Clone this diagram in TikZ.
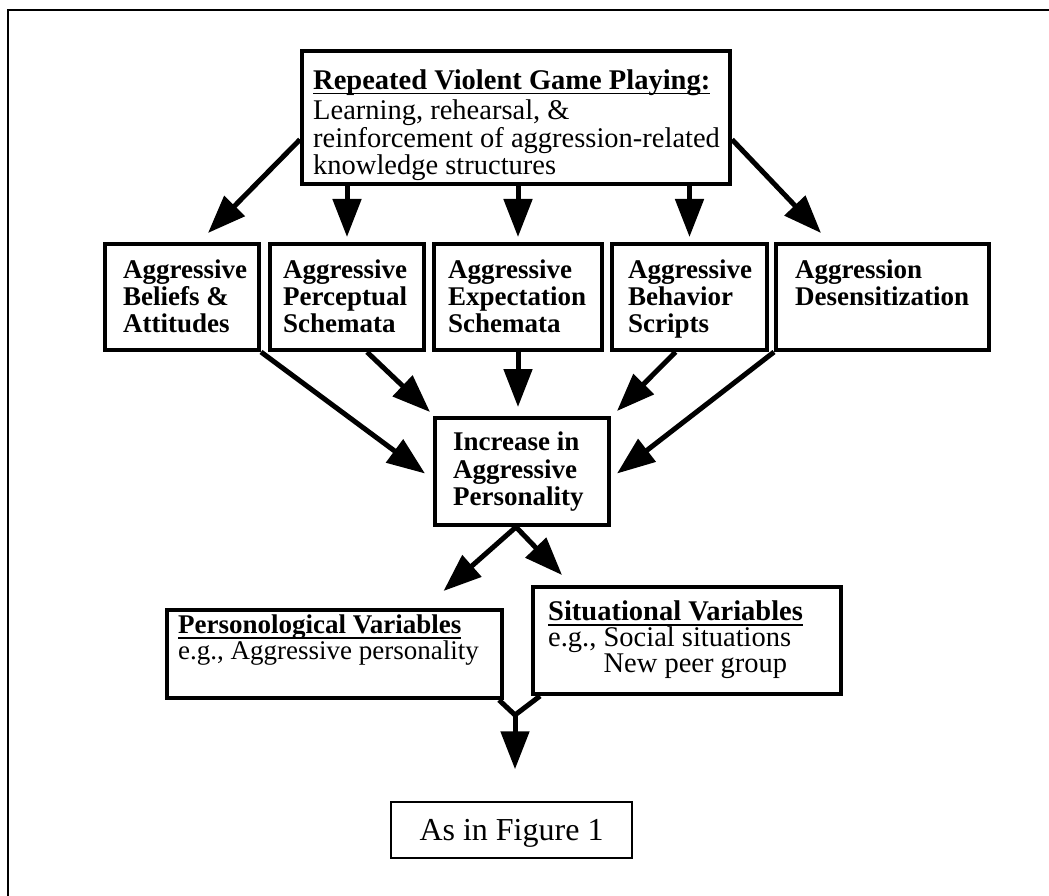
\documentclass[tikz,border=0pt]{standalone}
\usepackage{fontspec}
\setmainfont{Liberation Serif}
\usetikzlibrary{arrows.meta,calc}
\newcommand\ulbf[1]{\setbox0\hbox{\bfseries #1}\rlap{\rule[-5pt]{\wd0}{1.8pt}}\box0}
\begin{document}
\begin{tikzpicture}[x=1pt,y=-1pt,
  box/.style={draw, line width=4pt, inner sep=0pt, anchor=north west},
  lbl/.style={align=left, inner sep=0pt, anchor=north west, font=\fontsize{27}{26.5}\selectfont},
  blbl/.style={lbl, font=\fontsize{27}{26.8}\selectfont\bfseries},
  arr/.style={line width=5pt, -{Triangle[length=38pt,width=28pt]}},
  link/.style={line width=5pt, line join=miter},
  frame/.style={line width=2pt}
]
\useasboundingbox (0,0) rectangle (1049,896);
\draw[frame] (8,896) -- (8,10) -- (1049,10);

% boxes
\node[box, minimum width=428pt, minimum height=133pt] (top) at (300,49) {};
\node[box, minimum width=154pt, minimum height=106pt] (b1) at (103,242) {};
\node[box, minimum width=154pt, minimum height=106pt] (b2) at (268,242) {};
\node[box, minimum width=168pt, minimum height=106pt] (b3) at (432,242) {};
\node[box, minimum width=155pt, minimum height=106pt] (b4) at (610,242) {};
\node[box, minimum width=213pt, minimum height=106pt] (b5) at (774,242) {};
\node[box, minimum width=174pt, minimum height=107pt] (inc) at (433,416) {};
\node[box, minimum width=335pt, minimum height=88pt] (pers) at (165,608) {};
\node[box, minimum width=308pt, minimum height=107pt] (sit) at (531,585) {};
\node[draw, line width=1.5pt, minimum width=241pt, minimum height=56pt, inner sep=0pt,
      text depth=0pt, font=\fontsize{32}{34}\selectfont] (fig) at (511.5,830) {As in Figure 1};

% texts
\node[lbl, font=\fontsize{28.5}{27.3}\selectfont] (tt) at (313,69.5) {\ulbf{Repeated Violent Game Playing:}\\[3pt]
  Learning, rehearsal, \&\\ reinforcement of aggression-related\\ knowledge structures};
\node[blbl] (t1) at (123,260) {Aggressive\\Beliefs \&\\Attitudes};
\node[blbl] (t2) at (283,260) {Aggressive\\Perceptual\\Schemata};
\node[blbl] (t3) at (448,260) {Aggressive\\Expectation\\Schemata};
\node[blbl] (t4) at (628,260) {Aggressive\\Behavior\\Scripts};
\node[blbl] (t5) at (795,260) {Aggression\\Desensitization};
\node[blbl, font=\fontsize{27}{27.5}\selectfont\bfseries] (ti) at (453,432) {Increase in\\Aggressive\\Personality};
\node[lbl, font=\fontsize{27}{25.5}\selectfont] (tp) at (178,615) {\ulbf{Personological Variables}\\e.g., Aggressive personality};
\node[lbl, font=\fontsize{28.5}{26}\selectfont] (ts) at (548,601) {\ulbf{Situational Variables}\\e.g., Social situations\\\phantom{e.g., }New peer group};

% arrows from top box
\draw[arr] ($(top.west)+(0,22)$) -- ($(b1.north)+(26,-9)$);
\draw[arr] (top.south -| b2.north) -- ($(b2.north)+(0,-5)$);
\draw[arr] (top.south -| b3.north) -- ($(b3.north)+(0,-5)$);
\draw[arr] (top.south -| b4.north) -- ($(b4.north)+(0,-5)$);
\draw[arr] ($(top.east)+(0,22)$) -- ($(b5.north west)+(47,-9)$);

% arrows into increase box
\draw[arr] (b1.south east) -- ($(inc.west)+(-8,2)$);
\draw[arr] ($(b2.south)+(20,0)$) -- ($(inc.north west)+(-3,-4)$);
\draw[arr] (b3.south) -- ($(b3.south |- inc.north)+(0,-9)$);
\draw[arr] ($(b4.south)+(-14,0)$) -- ($(inc.north east)+(6,-5)$);
\draw[arr] (b5.south west) -- ($(inc.east)+(6,2)$);

% arrows out of increase box
\draw[arr] ($(inc.south)+(-6,0)$) -- ($(pers.north)+(109,-17)$);
\draw[arr] ($(inc.south)+(-6,0)$) -- ($(sit.north west)+(31,-10)$);

% merge
\coordinate (J) at (515,715);
\draw[link] ($(pers.south east)+(-5,0)$) -- (J) -- ($(sit.south west)+(9,0)$);
\draw[arr] (J) -- ($(J |- fig.north)+(0,-32)$);
\end{tikzpicture}
\end{document}
